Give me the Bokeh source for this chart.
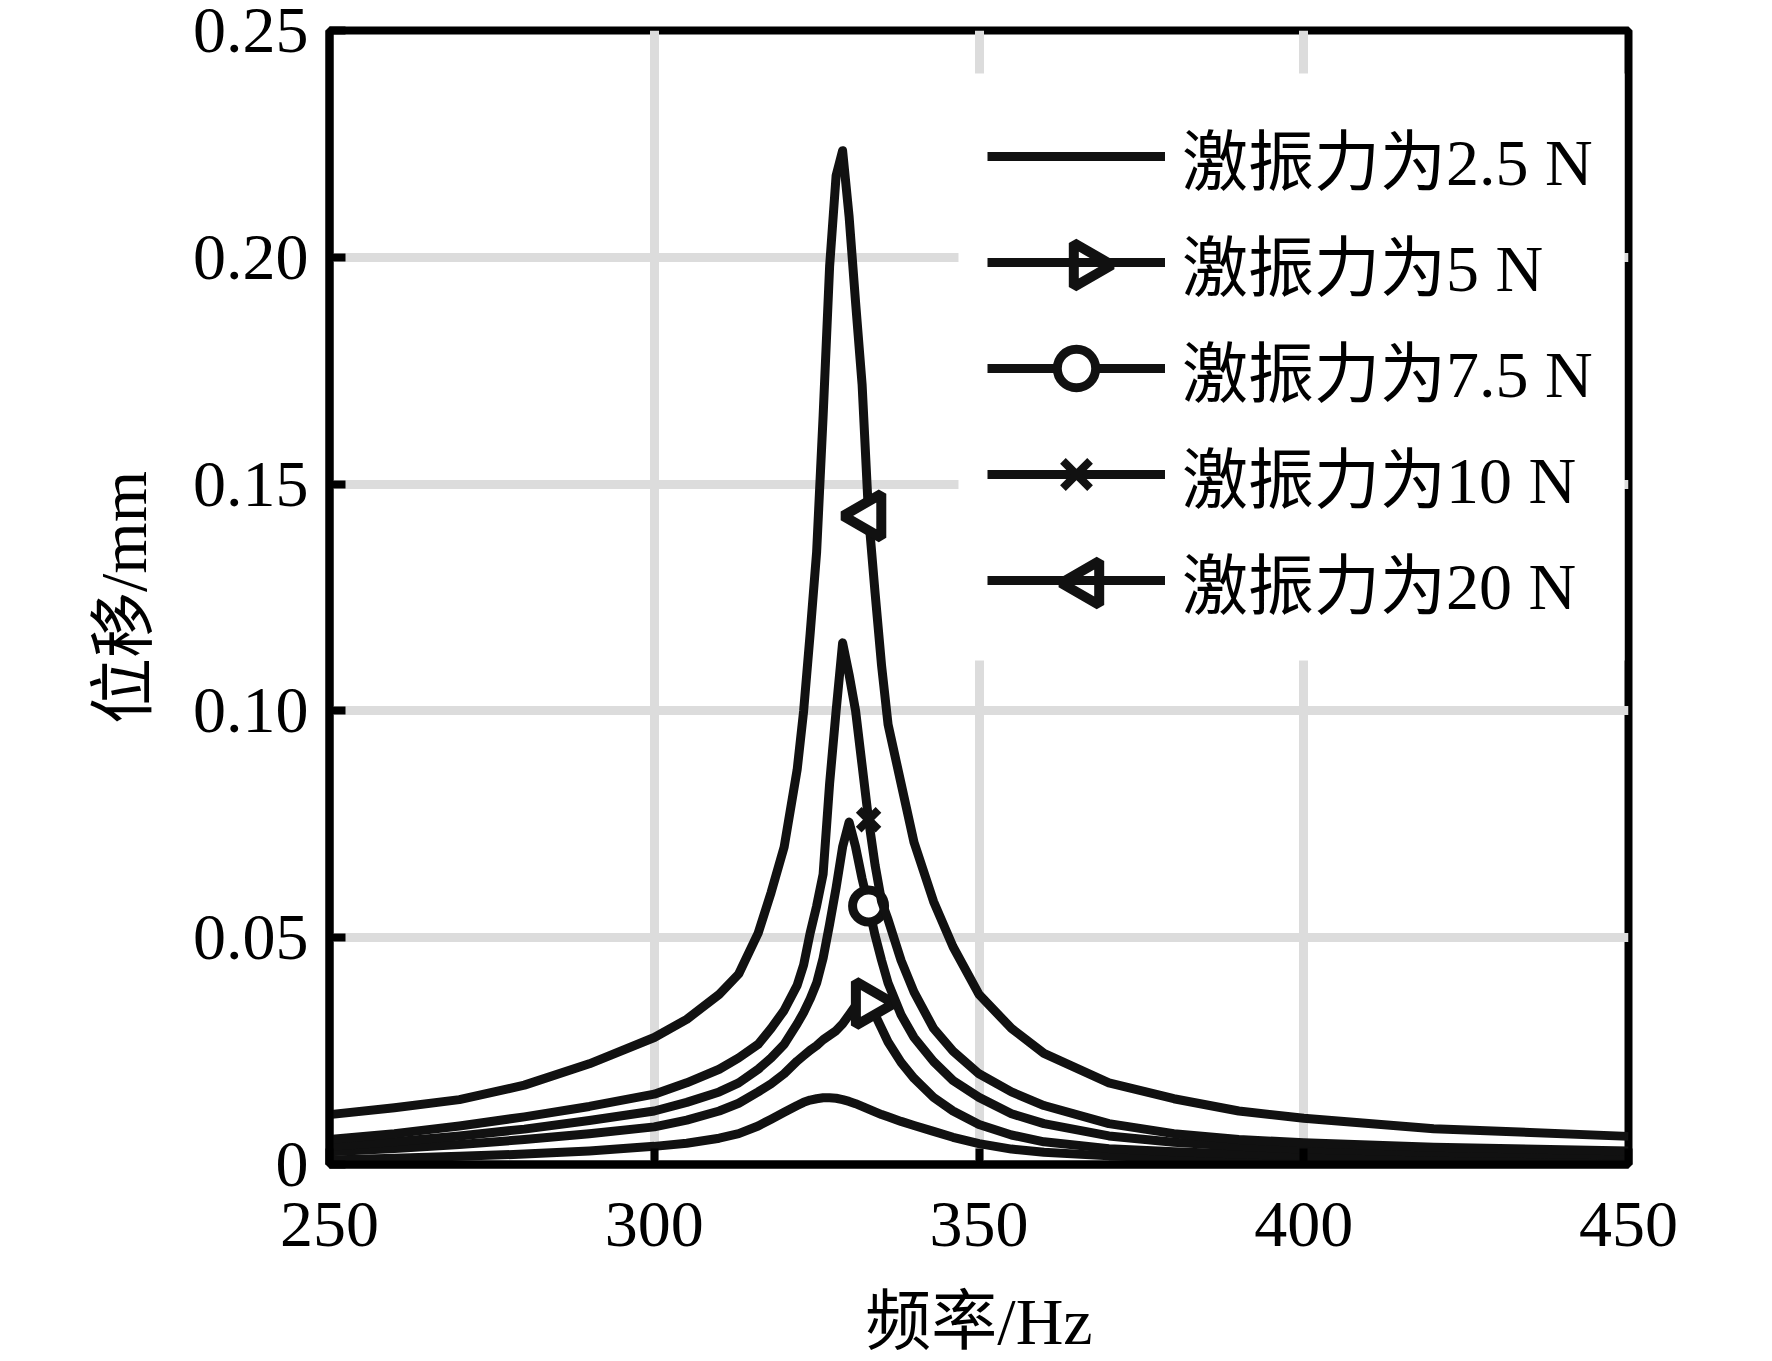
import math
from bokeh.plotting import figure
from bokeh.models import Range1d, FixedTicker, Legend, LegendItem
from bokeh.embed import file_html
from bokeh.resources import INLINE

# ---------------- data ----------------
freq = [250, 260, 270, 280, 290, 300, 305, 310, 313, 316, 318, 320, 322, 323,
        324, 325, 326, 327, 328, 329, 330, 331, 332, 333, 334, 335, 336, 338,
        340, 343, 346, 350, 355, 360, 370, 380, 390, 400, 420, 450]

disp_2p5 = [0.0010, 0.0014, 0.0018, 0.0023, 0.0030, 0.0040, 0.0047, 0.0058, 0.0068, 0.0085,
            0.0100, 0.0115, 0.0130, 0.0137, 0.0142, 0.0145, 0.0147, 0.0147, 0.0146, 0.0143,
            0.0139, 0.0134, 0.0128, 0.0122, 0.0116, 0.0110, 0.0105, 0.0095, 0.0086, 0.0073,
            0.0060, 0.0046, 0.0034, 0.0027, 0.0019, 0.0015, 0.0012, 0.0010, 0.0008, 0.0006]

disp_5 = [0.0028, 0.0035, 0.0044, 0.0055, 0.0068, 0.0083, 0.0098, 0.0118, 0.0135, 0.0160,
          0.0178, 0.0200, 0.0228, 0.0240, 0.0252, 0.0262, 0.0275, 0.0285, 0.0295, 0.0310,
          0.0330, 0.0350, 0.0368, 0.0355, 0.0330, 0.0300, 0.0270, 0.0225, 0.0190, 0.0148,
          0.0118, 0.0088, 0.0065, 0.0050, 0.0035, 0.0028, 0.0023, 0.0020, 0.0016, 0.0013]

disp_7p5 = [0.0040, 0.0050, 0.0063, 0.0078, 0.0097, 0.0118, 0.0137, 0.0160, 0.0180, 0.0210,
            0.0235, 0.0265, 0.0310, 0.0335, 0.0365, 0.0400, 0.0455, 0.0530, 0.0610, 0.0700,
            0.0755, 0.0700, 0.0630, 0.0570, 0.0505, 0.0450, 0.0400, 0.0330, 0.0280, 0.0227,
            0.0185, 0.0148, 0.0112, 0.0090, 0.0063, 0.0049, 0.0040, 0.0034, 0.0027, 0.0021]

disp_10 = [0.0055, 0.0068, 0.0085, 0.0105, 0.0128, 0.0155, 0.0180, 0.0210, 0.0235, 0.0265,
           0.0300, 0.0340, 0.0395, 0.0440, 0.0510, 0.0570, 0.0640, 0.0840, 0.1000, 0.1150,
           0.1080, 0.1000, 0.0880, 0.0760, 0.0660, 0.0580, 0.0540, 0.0450, 0.0380, 0.0300,
           0.0250, 0.0200, 0.0160, 0.0130, 0.0090, 0.0068, 0.0055, 0.0048, 0.0038, 0.0030]

disp_20 = [0.0110, 0.0125, 0.0143, 0.0175, 0.0222, 0.0280, 0.0320, 0.0375, 0.0420, 0.0510,
           0.0600, 0.0700, 0.0870, 0.1000, 0.1170, 0.1350, 0.1650, 0.1980, 0.2180, 0.2235,
           0.2090, 0.1900, 0.1720, 0.1430, 0.1260, 0.1100, 0.0970, 0.0840, 0.0710, 0.0580,
           0.0480, 0.0375, 0.0300, 0.0245, 0.0180, 0.0145, 0.0118, 0.0102, 0.0079, 0.0062]

series_values = [disp_2p5, disp_5, disp_7p5, disp_10, disp_20]
series_labels = ["激振力为2.5 N", "激振力为5 N", "激振力为7.5 N", "激振力为10 N", "激振力为20 N"]
series_markers = [None, "triangle", "circle", "x", "triangle"]
marker_angles = [0.0, -math.pi / 2, 0.0, 0.0, math.pi / 2]
marker_freq = 333

x_ticks = [250, 300, 350, 400, 450]
y_ticks = [0, 0.05, 0.1, 0.15, 0.2, 0.25]
y_tick_labels = ["0", "0.05", "0.10", "0.15", "0.20", "0.25"]
x_label = "频率/Hz"
y_label = "位移/mm"

# ---------------- styling ----------------
FONT = "Liberation Serif, Noto Sans CJK SC"
FS = "66px"
INK = "#111111"
FRAME_W, FRAME_H = 1299, 1134

p = figure(frame_width=FRAME_W, frame_height=FRAME_H,
           min_border_left=329, min_border_right=135,
           min_border_top=30, min_border_bottom=190,
           x_range=Range1d(250, 450), y_range=Range1d(0, 0.25),
           output_backend="svg", toolbar_location=None,
           background_fill_color="white", border_fill_color="white")

# pixel ranges over the frame, used only for the legend box and its rotated symbols
p.extra_x_ranges = {"px": Range1d(0, FRAME_W)}
p.extra_y_ranges = {"py": Range1d(0, FRAME_H)}

p.outline_line_color = "black"
p.outline_line_width = 8

for ax in (p.xaxis[0], p.yaxis[0]):
    ax.axis_line_color = "black"
    ax.axis_line_width = 8
    ax.major_tick_in = 16
    ax.major_tick_out = 0
    ax.major_tick_line_width = 8
    ax.major_tick_line_color = "black"
    ax.minor_tick_in = 0
    ax.minor_tick_out = 0
    ax.major_label_text_font = FONT
    ax.major_label_text_font_size = FS
    ax.major_label_text_color = "black"
    ax.axis_label_text_font = FONT
    ax.axis_label_text_font_size = FS
    ax.axis_label_text_font_style = "normal"
    ax.axis_label_text_color = "black"

p.xaxis.ticker = FixedTicker(ticks=x_ticks)
p.yaxis.ticker = FixedTicker(ticks=y_ticks)
p.yaxis.major_label_overrides = dict(zip(y_ticks, y_tick_labels))
p.xaxis.major_label_standoff = 38
p.yaxis.major_label_standoff = 21
p.xaxis.axis_label = x_label
p.yaxis.axis_label = y_label
p.xaxis.axis_label_standoff = 36
p.yaxis.axis_label_standoff = 30

p.xgrid.ticker = FixedTicker(ticks=x_ticks)
p.ygrid.ticker = FixedTicker(ticks=y_ticks)
for g in (p.xgrid[0], p.ygrid[0]):
    g.grid_line_color = "#dcdcdc"
    g.grid_line_width = 9

MARKER_SIZE = {"triangle": 44, "circle": 32, "x": 28}
MARKER_LW = {"triangle": 10, "circle": 9, "x": 8}

# legend geometry (frame pixels, measured from the frame's bottom-left corner)
LEG_X, LEG_Y = 658, 536
LEG_PAD, GLYPH_W, ITEM_H, SPACING = 10, 178, 96, 10
LEG_SHIFT = 12.5   # offset between Bokeh's legend origin and its first item
BOX_L, BOX_B, BOX_T = 629, 504, 1091
n_items = len(series_labels)
leg_h = 2 * LEG_PAD + n_items * ITEM_H + (n_items - 1) * SPACING

# white legend box: hides the grid behind the legend
p.quad(left=[BOX_L], right=[FRAME_W - 4], bottom=[BOX_B], top=[BOX_T],
       fill_color="white", line_color=None, x_range_name="px", y_range_name="py")

items = []
overlay_x, overlay_y, overlay_ang = [], [], []
mi = freq.index(marker_freq)
for i, (vals, lab, mk, ang) in enumerate(zip(series_values, series_labels, series_markers, marker_angles)):
    rs = [p.line(freq, vals, line_width=9, line_color=INK, line_join="round")]
    if mk is not None:
        r = p.scatter([freq[mi]], [vals[mi]], marker=mk, size=MARKER_SIZE[mk], angle=ang,
                      fill_color="white", line_color=INK, line_width=MARKER_LW[mk])
        if ang == 0.0:
            rs.append(r)
        else:
            # the legend does not rotate markers: draw those symbols separately
            overlay_x.append(LEG_X + LEG_PAD + GLYPH_W / 2)
            overlay_y.append(LEG_Y + leg_h - LEG_PAD - i * (ITEM_H + SPACING)
                             - ITEM_H / 2 - LEG_SHIFT)
            overlay_ang.append(ang)
    items.append(LegendItem(label=lab, renderers=rs))

p.scatter(overlay_x, overlay_y, marker="triangle", size=MARKER_SIZE["triangle"],
          angle=overlay_ang, fill_color="white", line_color=INK,
          line_width=MARKER_LW["triangle"], x_range_name="px", y_range_name="py")

legend = Legend(items=items, location=(LEG_X, LEG_Y),
                glyph_width=GLYPH_W, glyph_height=ITEM_H, label_height=ITEM_H,
                spacing=SPACING, padding=LEG_PAD, label_standoff=17,
                label_text_font=FONT, label_text_font_size=FS, label_text_color="black",
                border_line_color=None, background_fill_alpha=0.0)
p.add_layout(legend)

open("out.html", "w").write(file_html(p, INLINE))
